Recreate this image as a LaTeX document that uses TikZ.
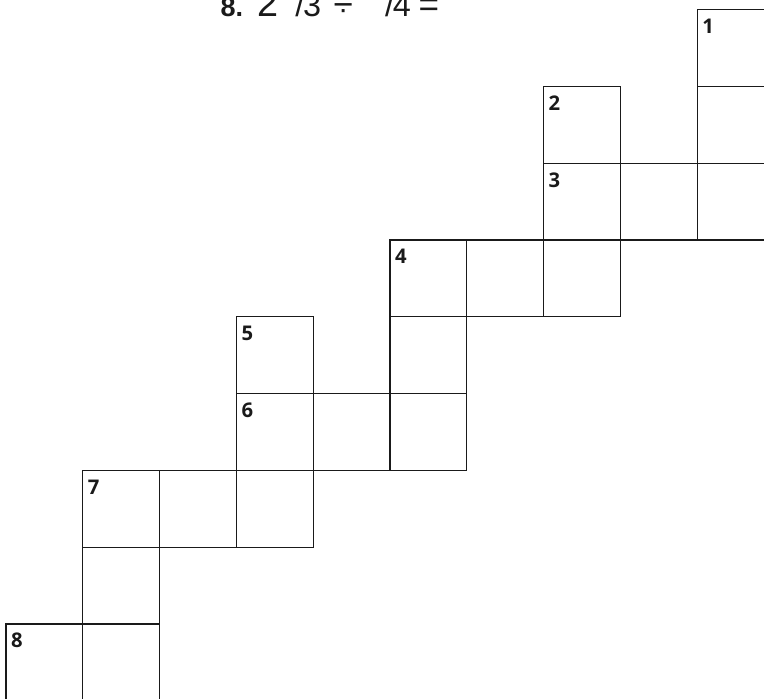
\documentclass[tikz,border=0pt]{standalone}
\usepackage{fontspec}
\setmainfont{Open Sans}
\newfontfamily\hdfont{Liberation Sans}
\usepackage{tikz}
\usetikzlibrary{positioning}
\definecolor{ink}{HTML}{1A1A1A}
\newcommand{\topfrac}[1]{\raisebox{1.4ex}{\fontsize{8}{8}\selectfont 1}\kern-0.5pt/\kern-0.5pt#1}

\begin{document}
\begin{tikzpicture}[cellbox/.style={draw=ink,line width=0.5pt,minimum size=1cm,inner sep=0pt,outer sep=0pt},
  clue/.style={anchor=north west,inner sep=0pt,font=\fontsize{7.5}{8}\selectfont\bfseries\color{ink},xshift=1.7pt,yshift=-3.2pt},
  hdr/.style={anchor=base west,inner sep=0pt,text=ink}]
  \useasboundingbox (0,0) rectangle (9.948,9.089);
  \clip (0,0) rectangle (9.948,9.089);
  \begin{scope}[shift={(0.078,-0.036)}]
    \foreach \c/\r in {0/0,1/0,1/1,1/2,2/2,3/2,3/3,4/3,5/3,3/4,5/4,5/5,6/5,7/5,7/6,8/6,9/6,7/7,9/7,9/8}
      \node[cellbox] (c\c-\r) at (\c+0.5,\r+0.5) {};
    \foreach \n/\cname in {1/c9-8,2/c7-7,3/c7-6,4/c5-5,5/c3-4,6/c3-3,7/c1-2,8/c0-0}
      \node[clue] (n\n) at (\cname.north west) {\n};
  \end{scope}
  % problem line, cut off at the top of the page
  \node[hdr,font=\hdfont\bfseries\fontsize{10}{10}\selectfont] (hd8) at (2.865,8.88) {8.};
  \node[hdr,font=\hdfont\fontsize{14}{14}\selectfont] (hdw) at (3.346,8.88) {2};
  \node[hdr,font=\hdfont\fontsize{12}{12}\selectfont] (hdfa) at (3.70,8.88) {\topfrac{3}};
  \node[hdr,font=\hdfont\fontsize{13}{13}\selectfont] (hddiv) at (4.336,8.88) {÷};
  \node[hdr,font=\hdfont\fontsize{12}{12}\selectfont] (hdfb) at (4.87,8.88) {\topfrac{4}};
  \node[hdr,font=\hdfont\fontsize{13}{13}\selectfont] (hdeq) at (5.443,8.88) {=};
\end{tikzpicture}
\end{document}
